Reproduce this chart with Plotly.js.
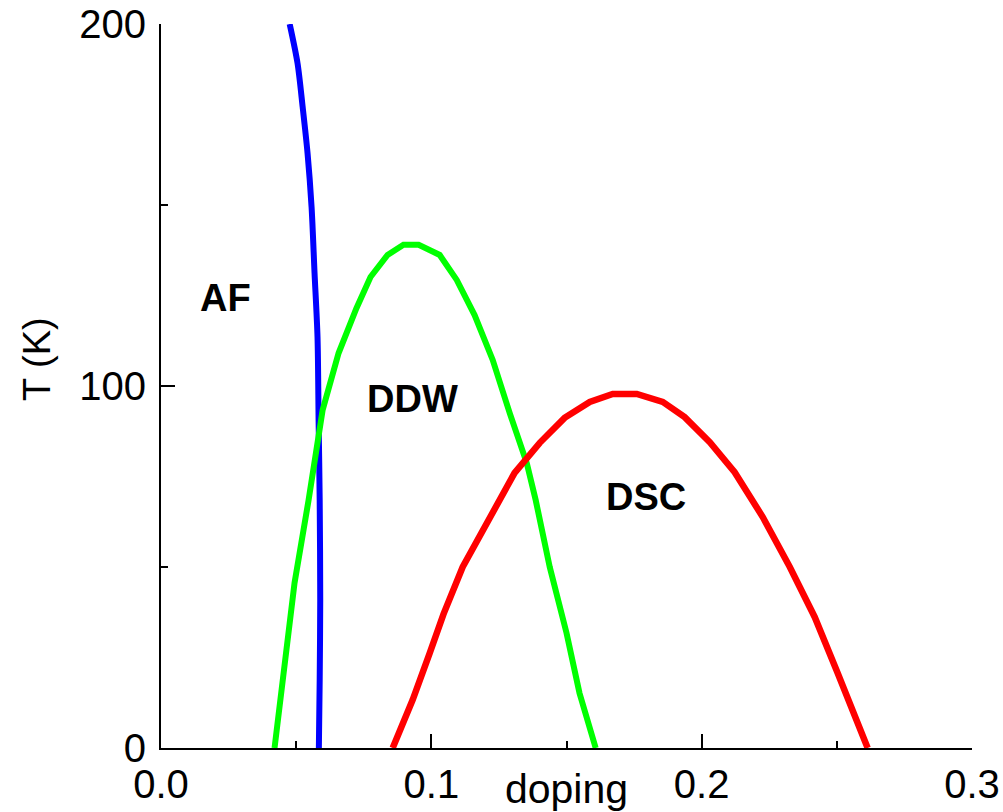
<!DOCTYPE html>
<html>
<head>
<meta charset="utf-8">
<script src="https://cdn.plot.ly/plotly-3.0.1.min.js"></script>
<style>
  html, body { margin: 0; padding: 0; background: #fff; }
  #chart { width: 1003px; height: 812px; }
</style>
</head>
<body>
<div id="chart"></div>
<script>
// Antiferromagnetic (AF) phase boundary
const afDoping = [0.0476, 0.0505, 0.0524, 0.0542, 0.0557, 0.0568, 0.0579, 0.0583, 0.0587, 0.0589, 0.0587, 0.0584];
const afT      = [200, 189.2, 177.1, 164.4, 149.4, 131.2, 113.5, 90.6, 68.5, 40.9, 18.8, 0];

// d-density-wave (DDW) dome
const ddwDoping = [0.0420, 0.0457, 0.0494, 0.0546, 0.0598, 0.0657, 0.0723, 0.0775, 0.0838, 0.0897, 0.0953,
                   0.1031, 0.1094, 0.1160, 0.1227, 0.1290, 0.1353, 0.1386, 0.1438, 0.1500, 0.1548, 0.1608];
const ddwT      = [0, 22.4, 45.6, 68.5, 93.4, 109.1, 121.5, 130.1, 136.2, 139.0, 139.0,
                   136.2, 129.3, 119.6, 107.2, 92.5, 78.7, 68.5, 50.0, 31.8, 15.2, 0];

// d-wave superconducting (DSC) dome
const dscDoping = [0.0857, 0.0931, 0.0994, 0.1045, 0.1116, 0.1216, 0.1308, 0.1401, 0.1493, 0.1586, 0.1671,
                   0.1760, 0.1856, 0.1937, 0.2030, 0.2122, 0.2226, 0.2326, 0.2418, 0.2503, 0.2614];
const dscT      = [0, 13.3, 26.2, 37.0, 50.0, 63.8, 76.0, 84.3, 91.2, 95.6, 97.8,
                   97.8, 95.6, 91.4, 84.5, 76.2, 63.8, 50.0, 36.2, 20.7, 0];

// Phase labels
const phaseNames  = ["AF", "DDW", "DSC"];
const phaseDoping = [0.0239, 0.0931, 0.1793];
const phaseT      = [124.2, 96.4, 69.3];

const FONT = "Liberation Sans, Arial, Helvetica, sans-serif";

const traces = [
  { x: afDoping, y: afT, mode: "lines", name: "AF",
    line: { color: "#0000ff", width: 6, shape: "spline", smoothing: 0.8 } },
  { x: ddwDoping, y: ddwT, mode: "lines", name: "DDW",
    line: { color: "#00ff00", width: 6 } },
  { x: dscDoping, y: dscT, mode: "lines", name: "DSC",
    line: { color: "#ff0000", width: 6.5 } }
];

const annotations = phaseNames.map((name, i) => ({
  x: phaseDoping[i], y: phaseT[i], xref: "x", yref: "y",
  text: "<b>" + name + "</b>", showarrow: false,
  font: { family: FONT, size: 38, color: "#000" }
}));

// Vertical axis title, set slightly above the middle of the axis
annotations.push({
  x: 0, y: 0.5, xref: "paper", yref: "paper",
  xanchor: "center", yanchor: "middle",
  xshift: -124, yshift: 27,
  text: "T (K)", textangle: -90, showarrow: false,
  font: { family: FONT, size: 38, color: "#000" }
});

const layout = {
  width: 1003, height: 812,
  margin: { l: 161, r: 31, t: 24, b: 64 },
  paper_bgcolor: "#fff", plot_bgcolor: "#fff",
  showlegend: false,
  font: { family: FONT, size: 40, color: "#000" },
  xaxis: {
    range: [0, 0.3], tick0: 0, dtick: 0.1, tickformat: ".1f",
    showline: true, linecolor: "#000", linewidth: 2,
    ticks: "inside", ticklen: 14, tickwidth: 2, tickcolor: "#000",
    minor: { dtick: 0.05, ticks: "inside", ticklen: 7, tickwidth: 2, tickcolor: "#000" },
    showgrid: false, zeroline: false,
    tickfont: { family: FONT, size: 40, color: "#000" },
    title: { text: "doping", font: { family: FONT, size: 41, color: "#000" }, standoff: 0 }
  },
  yaxis: {
    range: [0, 200], tick0: 0, dtick: 100,
    showline: true, linecolor: "#000", linewidth: 2,
    ticks: "inside", ticklen: 14, tickwidth: 2, tickcolor: "#000",
    minor: { dtick: 50, ticks: "inside", ticklen: 7, tickwidth: 2, tickcolor: "#000" },
    showgrid: false, zeroline: false, ticklabelstandoff: 5,
    tickfont: { family: FONT, size: 40, color: "#000" }
  },
  annotations: annotations
};

Plotly.newPlot("chart", traces, layout, { displayModeBar: false, staticPlot: true });
</script>
</body>
</html>
